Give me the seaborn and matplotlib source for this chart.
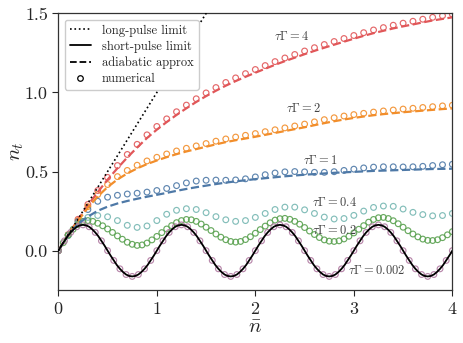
import numpy as np
import matplotlib
matplotlib.use("Agg")
import matplotlib.pyplot as plt
from matplotlib.lines import Line2D
import seaborn as sns

# sampling grids of the mean photon number
nbar_coarse = np.linspace(0, 4, 41)   # step 0.1
nbar_mid = np.linspace(0, 4, 81)      # step 0.05
nbar_fine = np.linspace(0, 4, 65)     # step 1/16
nbar_line = np.linspace(0, 4, 129)    # step 1/32

# long-pulse limit
long_x = [0.0, 0.5, 1.0, 1.5, 1.6]
long_y = [0.0, 0.5, 1.0, 1.5, 1.6]

# short-pulse limit
short_y = [
    0.000, 0.032, 0.062, 0.091, 0.115, 0.135, 0.151, 0.160, 0.163, 0.160, 0.151, 0.135, 0.115, 0.091, 0.062, 0.032,
    0.000, -0.032, -0.062, -0.091, -0.115, -0.135, -0.151, -0.160, -0.163, -0.160, -0.151, -0.135, -0.115, -0.091, -0.062, -0.032,
    0.000, 0.032, 0.062, 0.091, 0.115, 0.135, 0.151, 0.160, 0.163, 0.160, 0.151, 0.135, 0.115, 0.091, 0.062, 0.032,
    0.000, -0.032, -0.062, -0.091, -0.115, -0.135, -0.151, -0.160, -0.163, -0.160, -0.151, -0.135, -0.115, -0.091, -0.062, -0.032,
    0.000, 0.032, 0.062, 0.091, 0.115, 0.135, 0.151, 0.160, 0.163, 0.160, 0.151, 0.135, 0.115, 0.091, 0.062, 0.032,
    0.000, -0.032, -0.062, -0.091, -0.115, -0.135, -0.151, -0.160, -0.163, -0.160, -0.151, -0.135, -0.115, -0.091, -0.062, -0.032,
    0.000, 0.032, 0.062, 0.091, 0.115, 0.135, 0.151, 0.160, 0.163, 0.160, 0.151, 0.135, 0.115, 0.091, 0.062, 0.032,
    0.000, -0.032, -0.062, -0.091, -0.115, -0.135, -0.151, -0.160, -0.163, -0.160, -0.151, -0.135, -0.115, -0.091, -0.062, -0.032,
    0.000,
]

# adiabatic approximation
adiab_4 = [0.000, 0.100, 0.196, 0.286, 0.370, 0.449, 0.521, 0.589, 0.652, 0.712, 0.765, 0.813, 0.858, 0.900,
           0.940, 0.977, 1.011, 1.043, 1.072, 1.099, 1.125, 1.150, 1.175, 1.198, 1.220, 1.242, 1.263, 1.283,
           1.302, 1.321, 1.340, 1.358, 1.375, 1.390, 1.405, 1.418, 1.430, 1.443, 1.455, 1.465, 1.475]
adiab_2 = [0.000, 0.100, 0.188, 0.272, 0.343, 0.402, 0.450, 0.488, 0.520, 0.547, 0.570, 0.591, 0.610, 0.627,
           0.642, 0.657, 0.672, 0.686, 0.698, 0.709, 0.720, 0.732, 0.744, 0.756, 0.768, 0.780, 0.793, 0.806,
           0.818, 0.829, 0.839, 0.848, 0.856, 0.863, 0.869, 0.875, 0.880, 0.885, 0.890, 0.895, 0.899]
adiab_1 = [0.000, 0.098, 0.170, 0.215, 0.252, 0.278, 0.298, 0.314, 0.328, 0.341, 0.353, 0.365, 0.378, 0.390,
           0.401, 0.411, 0.421, 0.430, 0.438, 0.445, 0.452, 0.458, 0.464, 0.470, 0.475, 0.480, 0.484, 0.488,
           0.492, 0.495, 0.498, 0.501, 0.504, 0.506, 0.508, 0.510, 0.512, 0.514, 0.516, 0.517, 0.518]

# numerical results
num_4 = [0.000, 0.100, 0.198, 0.292, 0.380, 0.463, 0.538, 0.608, 0.672, 0.732, 0.785, 0.833, 0.878, 0.920,
         0.960, 0.997, 1.031, 1.063, 1.092, 1.119, 1.145, 1.170, 1.195, 1.218, 1.240, 1.262, 1.283, 1.303,
         1.322, 1.341, 1.360, 1.378, 1.395, 1.410, 1.425, 1.438, 1.450, 1.463, 1.475, 1.485, 1.495]
num_2 = [0.000, 0.100, 0.190, 0.278, 0.355, 0.418, 0.468, 0.507, 0.540, 0.567, 0.590, 0.611, 0.630, 0.647,
         0.662, 0.677, 0.692, 0.706, 0.718, 0.729, 0.740, 0.752, 0.764, 0.776, 0.788, 0.800, 0.814, 0.828,
         0.840, 0.851, 0.860, 0.868, 0.876, 0.883, 0.889, 0.895, 0.900, 0.905, 0.910, 0.915, 0.919]
num_1 = [0.000, 0.098, 0.185, 0.260, 0.312, 0.338, 0.350, 0.358, 0.363, 0.370, 0.380, 0.393, 0.411, 0.428,
         0.440, 0.445, 0.446, 0.445, 0.447, 0.454, 0.466, 0.480, 0.491, 0.498, 0.500, 0.498, 0.495, 0.495,
         0.499, 0.507, 0.515, 0.523, 0.528, 0.530, 0.530, 0.529, 0.530, 0.533, 0.538, 0.543, 0.546]
num_04 = [0.000, 0.095, 0.170, 0.210, 0.222, 0.214, 0.190, 0.160, 0.147, 0.156, 0.190, 0.230, 0.255, 0.265,
          0.260, 0.240, 0.215, 0.195, 0.185, 0.190, 0.210, 0.235, 0.260, 0.275, 0.275, 0.258, 0.235, 0.212,
          0.200, 0.203, 0.223, 0.250, 0.273, 0.282, 0.280, 0.263, 0.242, 0.228, 0.220, 0.222, 0.235]
num_02 = [0.000, 0.050, 0.098, 0.135, 0.165, 0.185, 0.190, 0.185, 0.173, 0.157, 0.137, 0.115, 0.093, 0.072,
          0.053, 0.040, 0.033, 0.036, 0.048, 0.068, 0.090, 0.114, 0.137, 0.158, 0.177, 0.190, 0.197, 0.195,
          0.185, 0.168, 0.148, 0.127, 0.105, 0.085, 0.069, 0.058, 0.054, 0.058, 0.070, 0.088, 0.110, 0.133,
          0.155, 0.176, 0.193, 0.202, 0.204, 0.198, 0.185, 0.167, 0.146, 0.124, 0.102, 0.083, 0.068, 0.060,
          0.058, 0.062, 0.074, 0.091, 0.112, 0.135, 0.158, 0.180, 0.197, 0.208, 0.210, 0.203, 0.189, 0.170,
          0.148, 0.126, 0.105, 0.087, 0.073, 0.065, 0.064, 0.069, 0.082, 0.100, 0.120]
num_0002 = [0.000, 0.062, 0.115, 0.151, 0.163, 0.151, 0.115, 0.062, 0.000, -0.062, -0.115, -0.151, -0.163,
            -0.151, -0.115, -0.062, 0.000, 0.062, 0.115, 0.151, 0.163, 0.151, 0.115, 0.062, 0.000, -0.062,
            -0.115, -0.151, -0.163, -0.151, -0.115, -0.062, 0.000, 0.062, 0.115, 0.151, 0.163, 0.151, 0.115,
            0.062, 0.000, -0.062, -0.115, -0.151, -0.163, -0.151, -0.115, -0.062, 0.000, 0.062, 0.115, 0.151,
            0.163, 0.151, 0.115, 0.062, 0.000, -0.062, -0.115, -0.151, -0.163, -0.151, -0.115, -0.062, 0.000]

c_red, c_orange, c_blue = "#e15759", "#f28e2b", "#4e79a7"
c_teal, c_green, c_purple = "#76b7b2", "#59a14f", "#b07aa1"

sns.set_theme(style="ticks")
plt.rcParams["font.family"] = "serif"
plt.rcParams["font.serif"] = ["cmr10"]
plt.rcParams["mathtext.fontset"] = "cm"
plt.rcParams["axes.formatter.use_mathtext"] = True

fig = plt.figure(figsize=(4.63, 3.43), dpi=100)
ax = fig.add_axes([0.126, 0.154, 0.851, 0.807])

# numerical circles
for xs, ys, c in [(nbar_coarse, num_4, c_red), (nbar_coarse, num_2, c_orange),
                  (nbar_coarse, num_1, c_blue), (nbar_coarse, num_04, c_teal),
                  (nbar_mid, num_02, c_green), (nbar_fine, num_0002, c_purple)]:
    sns.scatterplot(x=xs, y=ys, ax=ax, marker="o", s=17, facecolor="none",
                    edgecolor=c, linewidth=0.85, alpha=0.9, zorder=2)

# adiabatic approximations
for ys, c in [(adiab_4, c_red), (adiab_2, c_orange), (adiab_1, c_blue)]:
    sns.lineplot(x=nbar_coarse, y=ys, ax=ax, color=c, linestyle="--", linewidth=1.6, zorder=3)

sns.lineplot(x=nbar_line, y=short_y, ax=ax, color="black", linewidth=1.3, zorder=4)
sns.lineplot(x=long_x, y=long_y, ax=ax, color="black", linestyle=":", linewidth=1.2, zorder=4)

labels = [(2.37, 1.352, r"$\tau\Gamma = 4$"), (2.49, 0.90, r"$\tau\Gamma = 2$"),
          (2.66, 0.568, r"$\tau\Gamma = 1$"), (2.80, 0.305, r"$\tau\Gamma = 0.4$"),
          (2.80, 0.125, r"$\tau\Gamma = 0.2$"), (3.23, -0.128, r"$\tau\Gamma = 0.002$")]
for lx, ly, txt in labels:
    ax.text(lx, ly, txt, fontsize=9, color="#444444", ha="center", va="center", zorder=5)

ax.set_xlim(0, 4)
ax.set_ylim(-0.25, 1.5)
ax.set_xticks([0, 1, 2, 3, 4])
ax.set_yticks([0.0, 0.5, 1.0, 1.5])
ax.set_yticklabels(["0.0", "0.5", "1.0", "1.5"])
ax.tick_params(labelsize=13, length=4, width=0.8)
ax.set_xlabel(r"$\bar{n}$", fontsize=15, labelpad=2)
ax.set_ylabel(r"$n_t$", fontsize=15, labelpad=-1)
for sp in ax.spines.values():
    sp.set_linewidth(0.9)
    sp.set_color("#333333")

handles = [Line2D([], [], color="black", linestyle=":", linewidth=1.2),
           Line2D([], [], color="black", linewidth=1.3),
           Line2D([], [], color="black", linestyle="--", linewidth=1.3),
           Line2D([], [], color="black", linestyle="none", marker="o", markersize=4,
                  markerfacecolor="none", markeredgewidth=0.9)]
ax.legend(handles, ["long-pulse limit", "short-pulse limit", "adiabatic approx", "numerical"],
          loc="upper left", fontsize=9, frameon=True, framealpha=1.0, edgecolor="#cccccc",
          borderpad=0.4, labelspacing=0.3, handlelength=1.7, handletextpad=0.9)

fig.savefig("out.png", dpi=100)
